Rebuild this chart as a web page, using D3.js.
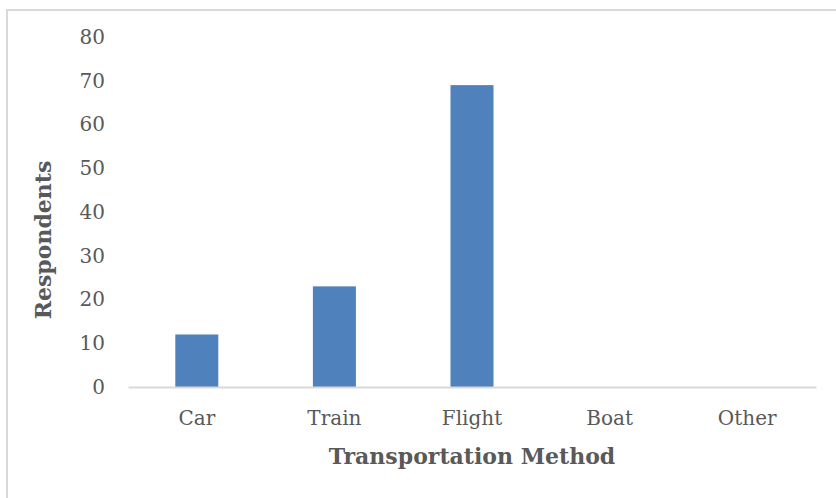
<!DOCTYPE html>
<html>
<head>
<meta charset="utf-8">
<script src="https://cdn.jsdelivr.net/npm/d3@7/dist/d3.min.js"></script>
<style>
  html, body { margin: 0; padding: 0; background: #fff; }
  svg { display: block; }
</style>
</head>
<body>
<script>
// Survey: how respondents travel
const categories = ["Car", "Train", "Flight", "Boat", "Other"];
const respondents = [12, 23, 69, 0, 0];
const yTicks = [0, 10, 20, 30, 40, 50, 60, 70, 80];
const xTitle = "Transportation Method";
const yTitle = "Respondents";

const W = 836, H = 498;
const plot = { left: 128, right: 816, top: 37, bottom: 387 };
const font = "'DejaVu Serif', 'Liberation Serif', serif";
const textColor = "#595959";

const svg = d3.select("body").append("svg")
  .attr("width", W).attr("height", H);

// chart frame
svg.append("rect")
  .attr("x", 7).attr("y", 10)
  .attr("width", W + 10).attr("height", H + 10)
  .attr("fill", "#fff")
  .attr("stroke", "#d9d9d9").attr("stroke-width", 2);

const x = d3.scaleBand()
  .domain(categories)
  .range([plot.left, plot.right])
  .paddingInner(0.6875)
  .paddingOuter(0.34375);

const y = d3.scaleLinear()
  .domain([0, 80])
  .range([plot.bottom, plot.top]);

// bars
svg.append("g").selectAll("rect")
  .data(categories.map((c, i) => ({ c, v: respondents[i] })))
  .join("rect")
  .attr("x", d => x(d.c))
  .attr("y", d => y(d.v))
  .attr("width", x.bandwidth())
  .attr("height", d => y(0) - y(d.v))
  .attr("fill", "#4f81bd");

// y axis: labels only
const yAxis = svg.append("g")
  .attr("transform", `translate(${plot.left - 23},0)`)
  .call(d3.axisLeft(y).tickValues(yTicks).tickSize(0).tickPadding(0));
yAxis.select(".domain").remove();
yAxis.selectAll("text")
  .attr("font-family", font).attr("font-size", 20)
  .attr("fill", textColor);

// x axis: baseline and category labels
const xAxis = svg.append("g")
  .attr("transform", `translate(0,${plot.bottom})`)
  .call(d3.axisBottom(x).tickSize(0).tickPadding(24));
xAxis.select(".domain")
  .attr("stroke", "#d9d9d9").attr("stroke-width", 2);
xAxis.selectAll("text")
  .attr("font-family", font).attr("font-size", 20)
  .attr("fill", textColor);

// axis titles
svg.append("text")
  .attr("x", 472).attr("y", 458)
  .attr("text-anchor", "middle").attr("dominant-baseline", "middle")
  .attr("font-family", font).attr("font-size", 22).attr("font-weight", "bold")
  .attr("fill", textColor)
  .text(xTitle);

svg.append("text")
  .attr("transform", "translate(45,240) rotate(-90)")
  .attr("text-anchor", "middle").attr("dominant-baseline", "middle")
  .attr("font-family", font).attr("font-size", 22).attr("font-weight", "bold")
  .attr("fill", textColor)
  .text(yTitle);
</script>
</body>
</html>
